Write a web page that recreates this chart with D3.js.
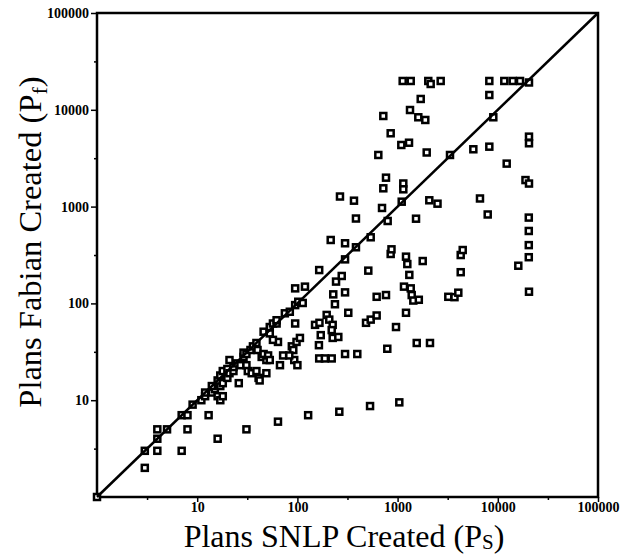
<!DOCTYPE html>
<html>
<head>
<meta charset="utf-8">
<script src="https://cdn.jsdelivr.net/npm/d3@7"></script>
<style>
body { margin: 0; background: #fff; }
text { font-family: "Liberation Serif", "Times New Roman", serif; fill: #000; }
</style>
</head>
<body>
<div class="chart"></div>
<script>
var w = 625;
var h = 554;
var margin = {top: 13, right: 27, bottom: 57, left: 97};
var pw = w - margin.left - margin.right;
var ph = h - margin.top - margin.bottom;

// plans created per problem
var snlpPlans = [1, 3, 3, 4, 7, 4, 4, 5, 8, 16, 31, 7, 8, 13, 9, 11, 12, 12, 14, 15,
  16, 17, 18, 17, 14, 16, 17, 18, 18, 20, 20, 21, 23, 26, 21, 23, 25, 27, 29, 29,
  31, 32, 35, 39, 41, 42, 31, 34, 36, 39, 40, 44, 46, 49, 51, 49, 53, 46, 53, 53,
  57, 62, 62, 64, 57, 67, 75, 84, 95, 95, 88, 91, 98, 106, 93, 72, 83, 100, 102, 113,
  95, 119, 150, 166, 171, 164, 165, 188, 220, 299, 396, 196, 208, 225, 220, 225, 256, 237, 322, 484,
  539, 618, 964, 1213, 789, 1552, 2105, 228, 299, 243, 277, 165, 510, 1309, 618, 766, 1158, 1352, 1383, 1435,
  1628, 3207, 3698, 4035, 4265, 4265, 4466, 1213, 1250, 1781, 853, 869, 299, 215, 299, 384, 539, 384, 796, 1527,
  266, 367, 699, 1099, 2072, 2502, 6640, 7930, 720, 1140, 1140, 766, 642, 1952, 3334, 853, 1089, 1300, 720, 1330,
  1609, 1890, 1701, 5700, 8230, 9020, 8230, 1124, 1352, 2024, 2139, 2692, 8230, 11610, 14090, 16670, 20480, 20480, 20480, 12270,
  18890, 20480, 20380, 20380, 20380, 20380, 16020, 20480, 64, 128, 262, 531, 1040];
var fabianPlans = [1, 2, 3, 3, 3, 4, 5, 5, 5, 4, 5, 7, 7, 7, 9, 10, 11, 12, 12, 13,
  11, 10, 11, 14, 14, 16, 18, 20, 15, 17, 21, 19, 20, 15, 26, 22, 24, 23, 28, 31,
  23, 20, 19, 20, 17, 16, 30, 33, 36, 39, 33, 28, 30, 26, 29, 19, 26, 51, 49, 57,
  62, 62, 67, 40, 42, 23, 79, 82, 96, 62, 36, 33, 40, 44, 26, 29, 29, 23, 104, 101,
  143, 149, 60, 63, 47, 37, 27, 27, 27, 30, 30, 76, 68, 60, 53, 44, 45, 98, 80, 63,
  68, 75, 57, 80, 34, 39, 39, 124, 130, 168, 192, 221, 218, 197, 117, 122, 149, 143, 122, 107,
  109, 117, 116, 129, 210, 316, 356, 304, 255, 274, 324, 362, 285, 452, 418, 380, 482, 753, 710, 750,
  1271, 1151, 968, 1124, 1162, 1072, 1213, 829, 1545, 1733, 1509, 1990, 3414, 3622, 3414, 5720, 4330, 4570, 8630, 9950,
  8370, 7850, 12940, 3910, 4160, 8370, 14220, 19850, 19850, 19850, 18480, 19850, 19850, 19850, 19850, 19850, 19150, 5280, 4510, 2780,
  1880, 1730, 770, 560, 400, 300, 245, 132, 6, 7, 7.6, 8.7, 9.5];
var majorTicks = [10, 100, 1000, 10000, 100000];
var minorTicks = [3.16, 31.6, 316, 3162, 31623];

var points = snlpPlans.map(function (d, i) { return {x: d, y: fabianPlans[i]}; });

var svg = d3.select(".chart")
            .append("svg")
            .attr("width", w)
            .attr("height", h);

var g = svg.append("g")
           .attr("transform", "translate(" + margin.left + "," + margin.top + ")");

// log scales, both 1..100000
var xScale = d3.scaleLog().domain([1, 100000]).range([0, pw]);
var yScale = d3.scaleLog().domain([1, 100000]).range([ph, 0]);

// axes
var xAxis = g.append("g")
   .attr("transform", "translate(0," + ph + ")")
   .call(d3.axisBottom(xScale).tickValues(majorTicks).tickFormat(d3.format("d")).tickSize(5).tickPadding(0));
xAxis.selectAll("text").style("font-size", "14px").style("font-weight", "bold");

var yAxis = g.append("g")
   .call(d3.axisLeft(yScale).tickValues(majorTicks).tickFormat(d3.format("d")).tickSize(6).tickPadding(2));
yAxis.selectAll("text").style("font-size", "14px").style("font-weight", "bold");

g.append("g")
   .attr("transform", "translate(0," + ph + ")")
   .call(d3.axisBottom(xScale).tickValues(minorTicks).tickFormat("").tickSize(3));
g.append("g")
   .call(d3.axisLeft(yScale).tickValues(minorTicks).tickFormat("").tickSize(3));

g.selectAll(".domain").remove();
g.selectAll(".tick line").attr("stroke", "#000").attr("stroke-width", 1.5);

// frame
g.append("rect")
   .attr("width", pw)
   .attr("height", ph)
   .attr("fill", "none")
   .attr("stroke", "#000")
   .attr("stroke-width", 2.5);

// data
g.selectAll(".pt")
   .data(points)
   .enter()
   .append("rect")
   .attr("class", "pt")
   .attr("x", (d) => xScale(d.x) - 3)
   .attr("y", (d) => yScale(d.y) - 3)
   .attr("width", 6)
   .attr("height", 6)
   .attr("fill", "#fff")
   .attr("stroke", "#000")
   .attr("stroke-width", 2.5);

// y = x
g.append("line")
   .attr("x1", xScale(1))
   .attr("y1", yScale(1))
   .attr("x2", xScale(100000))
   .attr("y2", yScale(100000))
   .attr("stroke", "#000")
   .attr("stroke-width", 2.5);

// titles
var xt = svg.append("text")
   .attr("x", 344)
   .attr("y", 547)
   .attr("text-anchor", "middle")
   .style("font-size", "32px");
xt.append("tspan").text("Plans SNLP Created (P");
xt.append("tspan").attr("dy", 2).style("font-size", "21px").text("S");
xt.append("tspan").attr("dy", -2).text(")");

var yt = svg.append("text")
   .attr("transform", "translate(41,242) rotate(-90)")
   .attr("text-anchor", "middle")
   .style("font-size", "32.5px");
yt.append("tspan").text("Plans Fabian Created (P");
yt.append("tspan").attr("dy", 6).style("font-size", "22px").text("f");
yt.append("tspan").attr("dy", -6).text(")");
</script>
</body>
</html>
